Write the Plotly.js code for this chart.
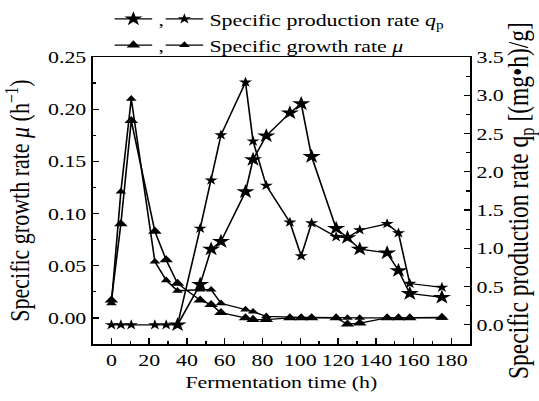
<!DOCTYPE html>
<html>
<head>
<meta charset="utf-8">
<script src="https://cdn.plot.ly/plotly-3.0.1.min.js"></script>
<style>
html,body{margin:0;padding:0;background:#fff;overflow:hidden;}
#wrap{width:539px;height:401px;overflow:hidden;}
#plot{width:431px;height:401px;transform:scaleX(1.25058);transform-origin:0 0;}
</style>
</head>
<body>
<div id="wrap"><div id="plot"></div></div>
<script>
// Fermentation time (h)
const timeH = [0, 5, 10.5, 23, 29, 35, 47, 52.8, 58, 71, 75, 82, 94.5, 100.5, 106, 119, 125, 131.5, 146, 152, 158, 175];
// Specific production rate qp [(mg·h)/g]
const qpSmall = [0, 0, 0, 0, 0, 0, 1.26, 1.89, 2.48, 3.17, 2.40, 1.82, 1.34, 0.90, 1.33, 1.15, 1.14, 1.24, 1.32, 1.20, 0.54, 0.49];
const qpLarge = [null, null, null, null, null, 0, 0.53, 0.99, 1.09, 1.74, 2.16, 2.47, 2.77, 2.89, 2.20, 1.26, 1.14, 0.99, 0.94, 0.71, 0.41, 0.36];
// Specific growth rate mu (1/h)
const muSmall = [0.014, 0.121, 0.210, 0.054, 0.036, 0.026, 0.027, 0.027, 0.014, 0.008, 0.006, 0.0015, 0.0005, 0.0005, 0.0005, 0, 0, 0, 0, 0, 0, 0];
const muLarge = [0.017, 0.090, 0.189, 0.083, 0.0555, 0.033, 0.017, 0.0127, 0.005, 0, -0.0016, -0.0016, 0, 0, 0, 0, -0.006, -0.005, 0, 0, 0, 0.0005];

const legendNames = [',', 'Specific production rate <i>q</i><sub>p</sub>', ',', 'Specific growth rate <i>μ</i>'];

const lineStyle = {color: '#000', width: 1.3};
const traces = [
  {x: timeH, y: muLarge, yaxis: 'y', mode: 'lines+markers', name: legendNames[2], legend: 'legend3',
   line: lineStyle, marker: {symbol: 'triangle-up', size: 9.5, color: '#000'}},
  {x: timeH, y: muSmall, yaxis: 'y', mode: 'lines+markers', name: legendNames[3], legend: 'legend4',
   line: lineStyle, marker: {symbol: 'triangle-up', size: 7.5, color: '#000'}},
  {x: timeH, y: qpLarge, yaxis: 'y2', mode: 'lines+markers', name: legendNames[0], legend: 'legend',
   line: lineStyle, marker: {symbol: 'star', size: 11, color: '#000'}},
  {x: timeH, y: qpSmall, yaxis: 'y2', mode: 'lines+markers', name: legendNames[1], legend: 'legend2',
   line: lineStyle, marker: {symbol: 'star', size: 8, color: '#000'}}
];

const axisBase = {
  showgrid: false, zeroline: false, showline: true, linecolor: '#000', linewidth: 1.5,
  ticks: 'inside', tickcolor: '#000', tickwidth: 1.2,
  tickfont: {family: 'Liberation Serif, serif', size: 17.5, color: '#000'}
};
const legendBase = {
  bgcolor: 'rgba(0,0,0,0)', borderwidth: 0, xanchor: 'left', yanchor: 'top',
  font: {family: 'Liberation Serif, serif', size: 17.5, color: '#000'}
};

const layout = {
  width: 431, height: 401,
  margin: {l: 74, r: 55, t: 57, b: 57, pad: 0, autoexpand: false},
  paper_bgcolor: '#fff', plot_bgcolor: '#fff',
  font: {family: 'Liberation Serif, serif', size: 17.5, color: '#000'},
  showlegend: true,
  xaxis: Object.assign({}, axisBase, {
    range: [-10, 190], tick0: 0, dtick: 20, ticklen: 6, mirror: true,
    minor: {dtick: 10, ticks: 'inside', ticklen: 3, tickcolor: '#000', tickwidth: 1.2, showgrid: false},
    title: {text: 'Fermentation time (h)', standoff: 6, font: {size: 17.5}}
  }),
  yaxis: Object.assign({}, axisBase, {
    range: [-0.025, 0.25], tick0: 0, dtick: 0.05, tickformat: '.2f', ticklen: 5,
    minor: {dtick: 0.025, ticks: 'inside', ticklen: 3, tickcolor: '#000', tickwidth: 1.2, showgrid: false},
    title: {text: 'Specific growth rate <i>μ</i> (h<sup>−1</sup>)', standoff: 8, font: {size: 22}}
  }),
  yaxis2: Object.assign({}, axisBase, {
    overlaying: 'y', side: 'right',
    range: [-0.25, 3.5], tick0: 0, dtick: 0.5, tickformat: '.1f', ticklen: 5,
    minor: {dtick: 0.25, ticks: 'inside', ticklen: 3, tickcolor: '#000', tickwidth: 1.2, showgrid: false},
    title: {text: 'Specific production rate q<sub>p</sub> [(mg•h)/g]', standoff: 3, font: {size: 23.5}}
  }),
  legend: Object.assign({}, legendBase, {x: 0.042, y: 1.195}),
  legend2: Object.assign({}, legendBase, {x: 0.177, y: 1.195}),
  legend3: Object.assign({}, legendBase, {x: 0.042, y: 1.104}),
  legend4: Object.assign({}, legendBase, {x: 0.177, y: 1.104})
};

Plotly.newPlot('plot', traces, layout, {displayModeBar: false, staticPlot: true});
</script>
</body>
</html>
